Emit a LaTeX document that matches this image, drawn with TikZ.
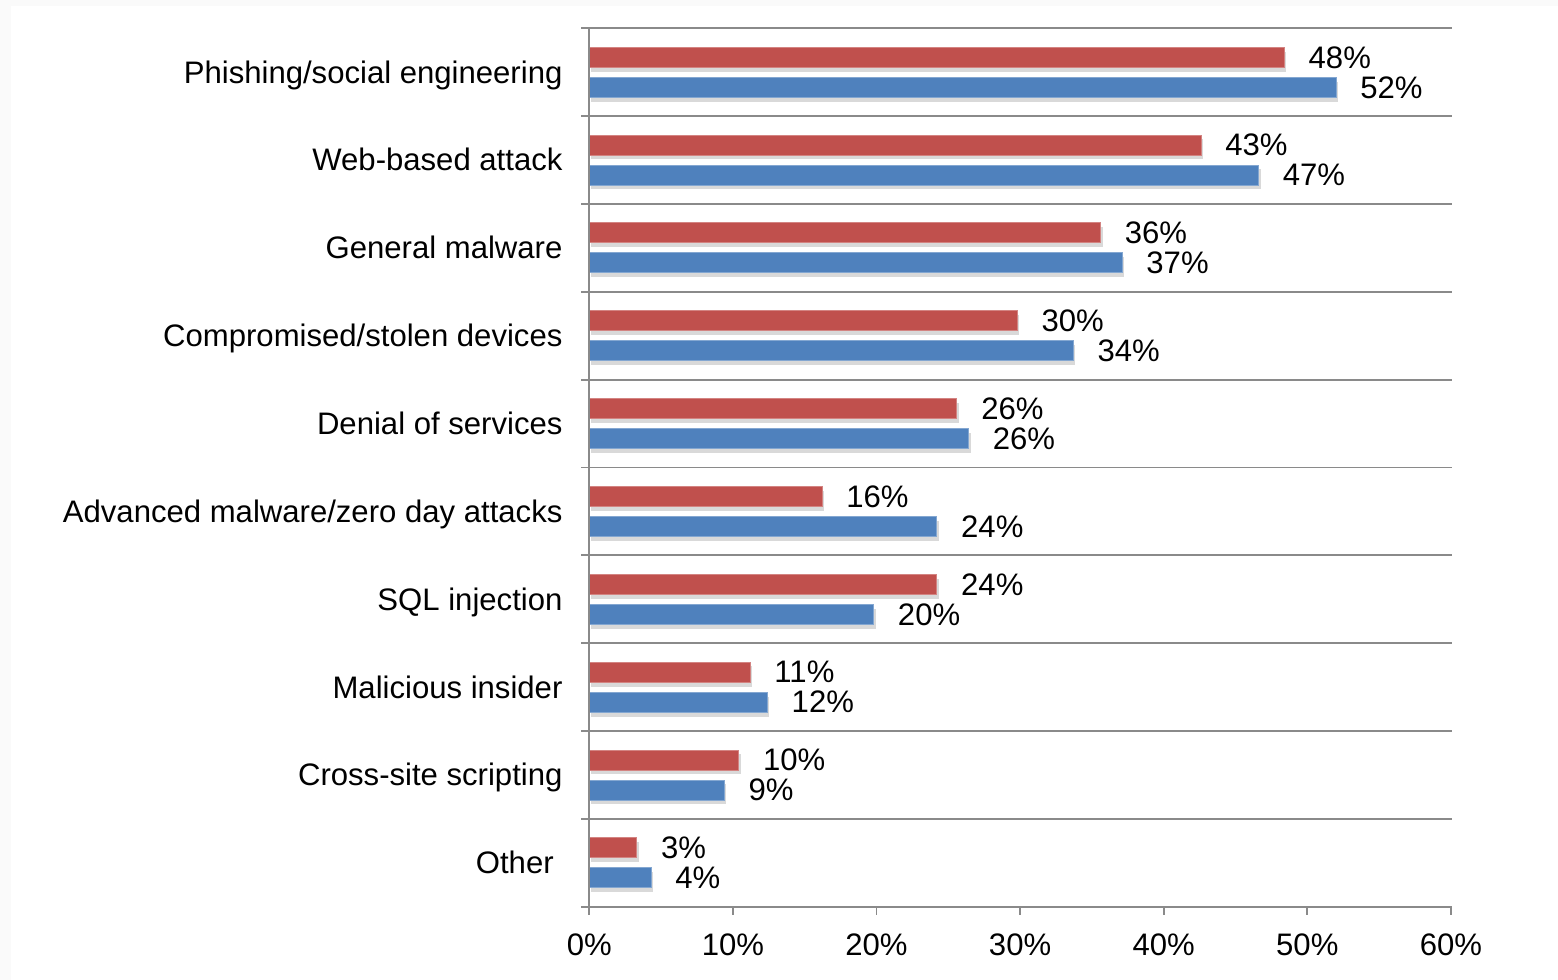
\documentclass[tikz,border=0pt]{standalone}
\usepackage{fontspec}
\setmainfont{Liberation Sans}
\usepackage{tikz}
\usetikzlibrary{shadows}
\definecolor{barred}{RGB}{192,80,77}
\definecolor{barblue}{RGB}{79,129,189}
\definecolor{axisgray}{RGB}{138,138,138}
\definecolor{edgegray}{RGB}{250,250,250}
\newcommand{\chartfont}{\fontsize{17.7pt}{20pt}\selectfont}
\newcommand{\xzero}{589.3}
\newcommand{\pct}{14.36}
\newcommand{\rowh}{87.84}
\newcommand{\ytop}{28.3}
\tikzstyle{every node}+=[inner sep=0pt]
\tikzstyle{bar} = [line width=0.5pt, drop shadow={opacity=0.3, shadow xshift=1.2pt, shadow yshift=-2.5pt}]
\tikzstyle{redbar} = [bar, fill=barred, draw=barred!70!white]
\tikzstyle{bluebar} = [bar, fill=barblue, draw=barblue!70!white]
\tikzstyle{gridline} = [draw=axisgray, line width=1.1pt]
\tikzstyle{value} = [anchor=base west, font=\chartfont]
\tikzstyle{category} = [anchor=base east, font=\chartfont]
\tikzstyle{ticklabel} = [anchor=base, font=\chartfont]

\begin{document}
\begin{tikzpicture}[x=0.02cm, y=-0.02cm]
            \useasboundingbox (0,0) rectangle (1558,980);
            \fill[edgegray] (0,0) rectangle (1558,6);
            \fill[edgegray] (0,0) rectangle (11,980);
            % Draw grid
            \foreach \k in {0,...,10}
              \draw [gridline] (581,\ytop+\rowh*\k) -- (1451.7,\ytop+\rowh*\k);
            % Place bars and labels
            \foreach \i/\cat/\r/\b/\rl/\bl in {
                1/{Phishing/social engineering}/48.4/52.0/48/52,
                2/Web-based attack/42.6/46.6/43/47,
                3/General malware/35.6/37.1/36/37,
                4/{Compromised/stolen devices}/29.8/33.7/30/34,
                5/Denial of services/25.6/26.4/26/26,
                6/{Advanced malware/zero day attacks}/16.2/24.2/16/24,
                7/SQL injection/24.2/19.8/24/20,
                8/Malicious insider/11.2/12.4/11/12,
                9/Cross-site scripting/10.4/9.4/10/9,
                10/Other\kern5pt/3.3/4.3/3/4} {
              \pgfmathsetmacro{\yc}{\ytop+\rowh*(\i-0.5)}
              \pgfmathsetmacro{\xr}{\xzero+\pct*\r}
              \pgfmathsetmacro{\xb}{\xzero+\pct*\b}
              \draw [redbar] (\xzero,\yc-25) rectangle (\xr,\yc-5);
              \draw [bluebar] (\xzero,\yc+5) rectangle (\xb,\yc+25);
              \node [value] (red\i) at (\xr+24,\yc-4.2) {\rl\%};
              \node [value] (blue\i) at (\xb+24,\yc+25.8) {\bl\%};
              \node [category] (cat\i) at (562.8,\yc+10.9) {\cat};
            }
            % Draw axis
            \draw [gridline] (\xzero,\ytop) -- (\xzero,915);
            \foreach \k in {0,...,6} {
              \draw [gridline] (\xzero+143.6*\k,\ytop+\rowh*10) -- (\xzero+143.6*\k,915);
              \pgfmathtruncatemacro{\p}{10*\k}
              \node [ticklabel] (tick\k) at (\xzero+143.6*\k,955) {\p\%};
            }
          \end{tikzpicture}
\end{document}
